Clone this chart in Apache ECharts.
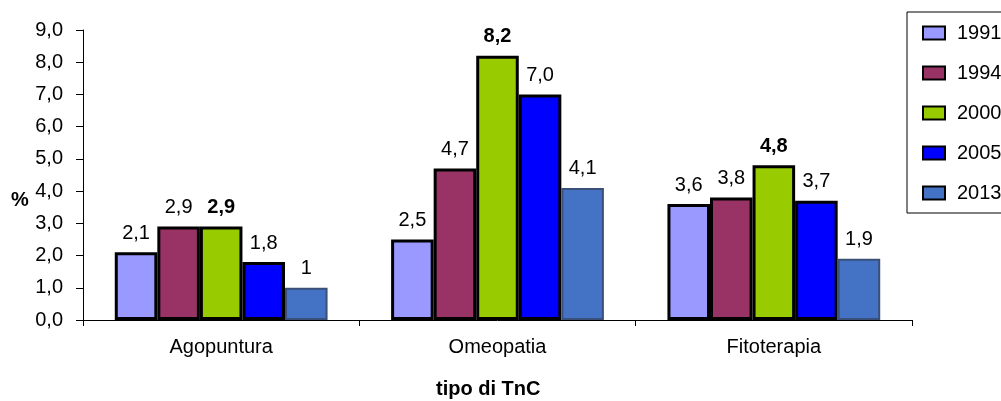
<!DOCTYPE html>
<html>
<head>
<meta charset="utf-8">
<script src="https://cdn.jsdelivr.net/npm/echarts@6/dist/echarts.min.js"></script>
<style>html,body{margin:0;padding:0;background:#fff}#c{width:1001px;height:401px}</style>
</head>
<body>
<div id="c"></div>
<script>
const categories = ['Agopuntura', 'Omeopatia', 'Fitoterapia'];
const years = ['1991', '1994', '2000', '2005', '2013'];
const v1991 = [2.1, 2.5, 3.6];
const v1994 = [2.9, 4.7, 3.8];
const v2000 = [2.9, 8.2, 4.8];
const v2005 = [1.8, 7.0, 3.7];
const v2013 = [1.0, 4.1, 1.9];
const labels2013 = ['1', '4,1', '1,9'];
const yTicks = [0, 1, 2, 3, 4, 5, 6, 7, 8, 9];

const FONT = 'Liberation Sans, Arial, sans-serif';
const fmt = v => v.toFixed(1).replace('.', ',');
const colors = ['#9999FF', '#993366', '#99CC00', '#0000FF', '#4472C4'];
const values = [v1991, v1994, v2000, v2005, v2013];

const series = years.map((y, i) => ({
  name: y,
  type: 'bar',
  data: values[i],
  barGap: '0%',
  barCategoryGap: '23%',
  itemStyle: {
    color: colors[i],
    borderColor: i === 4 ? '#3a5078' : '#000',
    borderWidth: i === 4 ? 2 : 3
  },
  label: {
    show: true,
    position: 'top',
    distance: 9,
    color: '#000',
    fontFamily: FONT,
    fontSize: 20,
    fontWeight: i === 2 ? 'bold' : 'normal',
    formatter: p => i === 4 ? labels2013[p.dataIndex] : fmt(p.value)
  },
  emphasis: { disabled: true }
}));

const chart = echarts.init(document.getElementById('c'), null, { renderer: 'canvas' });
chart.setOption({
  animation: false,
  backgroundColor: '#fff',
  textStyle: { fontFamily: FONT },
  grid: { left: 83, right: 89, top: 30, bottom: 81, containLabel: false },
  legend: {
    orient: 'vertical',
    left: 907,
    top: 12,
    data: years,
    icon: 'rect',
    itemWidth: 22,
    itemHeight: 13,
    itemGap: 20,
    padding: [11, 30, 10, 15],
    borderColor: '#000',
    borderWidth: 1,
    itemStyle: { borderColor: '#000', borderWidth: 2 },
    textStyle: { fontFamily: FONT, fontSize: 20, color: '#000', lineHeight: 20, padding: [0, 0, 0, 7] }
  },
  xAxis: {
    type: 'category',
    data: categories,
    axisLine: { lineStyle: { color: '#000', width: 1 } },
    axisTick: { show: true, length: 6, alignWithLabel: false, interval: 0, lineStyle: { color: '#000' } },
    axisLabel: { color: '#000', fontFamily: FONT, fontSize: 20, margin: 17, interval: 0 },
    splitLine: { show: false }
  },
  yAxis: {
    type: 'value',
    min: yTicks[0],
    max: yTicks[yTicks.length - 1],
    interval: 1,
    axisLine: { show: true, lineStyle: { color: '#000', width: 1 } },
    axisTick: { show: true, length: 7, lineStyle: { color: '#000' } },
    axisLabel: { color: '#000', fontFamily: FONT, fontSize: 20, margin: 20, formatter: v => fmt(v) },
    splitLine: { show: false }
  },
  graphic: [
    { type: 'text', left: 11, top: 190, style: { text: '%', font: 'bold 20px ' + FONT, fill: '#000' } },
    { type: 'text', left: 436, top: 379, style: { text: 'tipo di TnC', font: 'bold 20px ' + FONT, fill: '#000' } }
  ],
  series: series
});
</script>
</body>
</html>
